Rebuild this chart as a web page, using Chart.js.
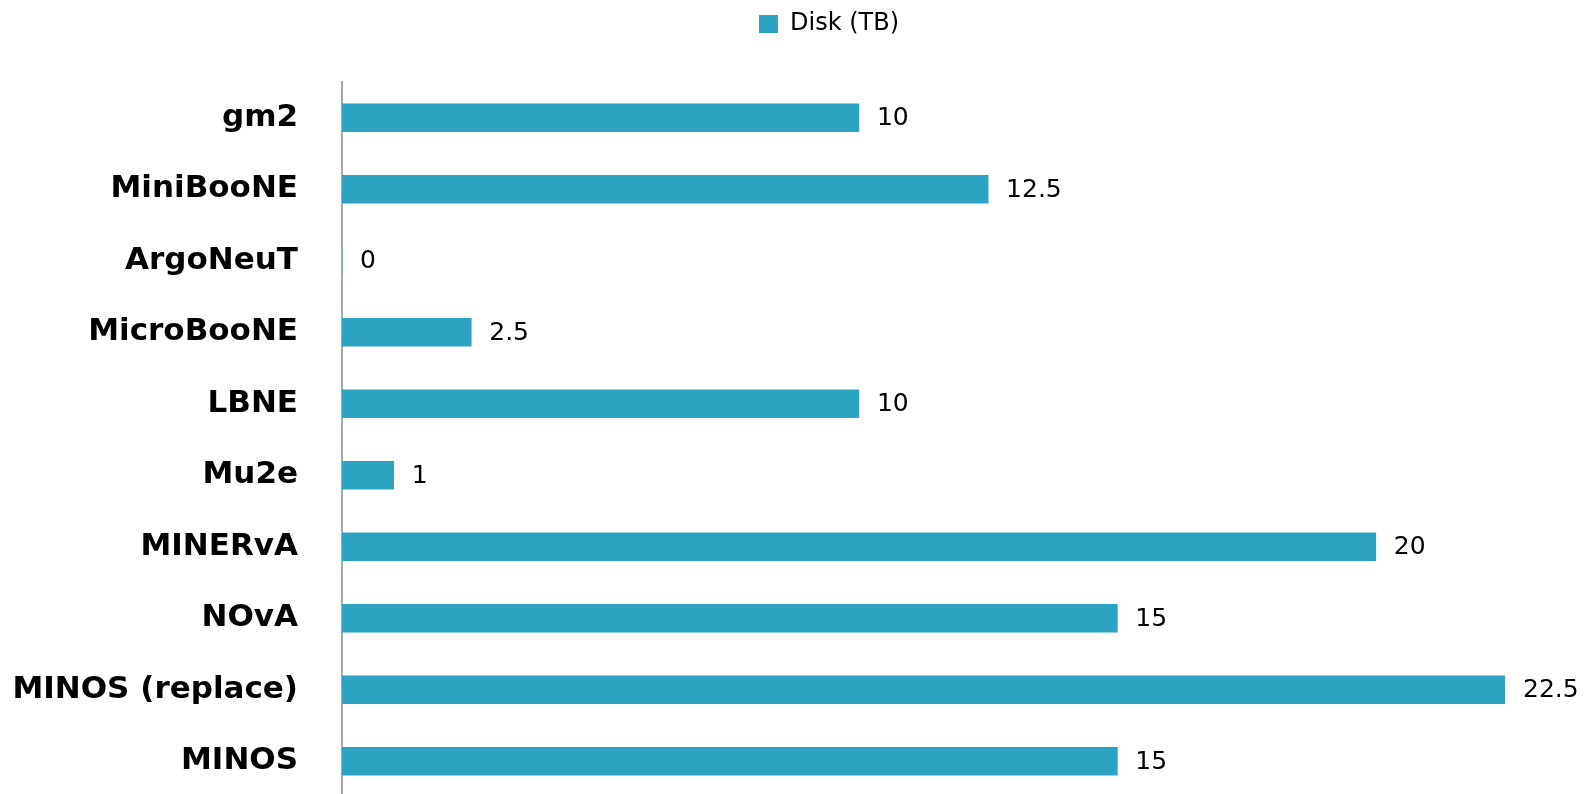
<!DOCTYPE html>
<html>
<head>
<meta charset="utf-8">
<script src="https://cdn.jsdelivr.net/npm/chart.js@4/dist/chart.umd.min.js"></script>
<style>
  html, body { margin: 0; padding: 0; background: #fff; overflow: hidden; }
  #wrap { width: 1591px; height: 800px; }
</style>
</head>
<body>
<div id="wrap"><canvas id="c" width="1591" height="800"></canvas></div>
<script>
const categories = ['gm2', 'MiniBooNE', 'ArgoNeuT', 'MicroBooNE', 'LBNE', 'Mu2e', 'MINERvA', 'NOvA', 'MINOS (replace)', 'MINOS'];
const diskValues = [10, 12.5, 0, 2.5, 10, 1, 20, 15, 22.5, 15];
const seriesLabel = 'Disk (TB)';
const xMax = 22.5;

Chart.defaults.font.family = "'DejaVu Sans', Verdana, sans-serif";
Chart.defaults.color = '#000';

const valueLabels = {
  id: 'valueLabels',
  afterDatasetsDraw(chart) {
    const ctx = chart.ctx;
    const meta = chart.getDatasetMeta(0);
    ctx.save();
    ctx.font = "25px 'DejaVu Sans', Verdana, sans-serif";
    ctx.fillStyle = '#000';
    ctx.textAlign = 'left';
    ctx.textBaseline = 'middle';
    meta.data.forEach((bar, i) => {
      ctx.fillText(String(chart.data.datasets[0].data[i]), bar.x + 18, bar.y + 1);
    });
    ctx.restore();
  }
};

// centre the legend over a narrower band, as in the reference
const legendShift = {
  id: 'legendShift',
  afterLayout(chart) {
    const lg = chart.legend;
    if (!lg) return;
    lg.left = 153;
    lg.width = lg.right - lg.left;
  }
};

new Chart(document.getElementById('c'), {
  type: 'bar',
  data: {
    labels: categories,
    datasets: [{
      label: seriesLabel,
      data: diskValues,
      backgroundColor: '#2ca3c0',
      borderWidth: 0,
      barThickness: 28
    }]
  },
  options: {
    indexAxis: 'y',
    responsive: false,
    devicePixelRatio: 1,
    animation: false,
    layout: { padding: { left: 0, right: 86, top: 0, bottom: 3 } },
    plugins: {
      legend: {
        display: true,
        position: 'top',
        labels: {
          boxWidth: 19,
          boxHeight: 18,
          padding: 12,
          color: '#000',
          font: { size: 24 }
        }
      },
      tooltip: { enabled: false }
    },
    scales: {
      x: {
        position: 'top',
        min: 0,
        max: xMax,
        ticks: { display: false },
        grid: { display: false, drawTicks: false },
        border: { display: false },
        afterFit(s) { s.height = 36; s.paddingLeft = 0; s.paddingRight = 0; }
      },
      y: {
        ticks: {
          padding: 44,
          color: '#000',
          font: { size: 31, weight: 'bold' }
        },
        grid: { display: false, drawTicks: false },
        border: { display: true, color: '#a9a9a9', width: 2 },
        afterFit(s) { s.width = 342; s.paddingTop = 0; s.paddingBottom = 0; }
      }
    }
  },
  plugins: [valueLabels, legendShift]
});
</script>
</body>
</html>
